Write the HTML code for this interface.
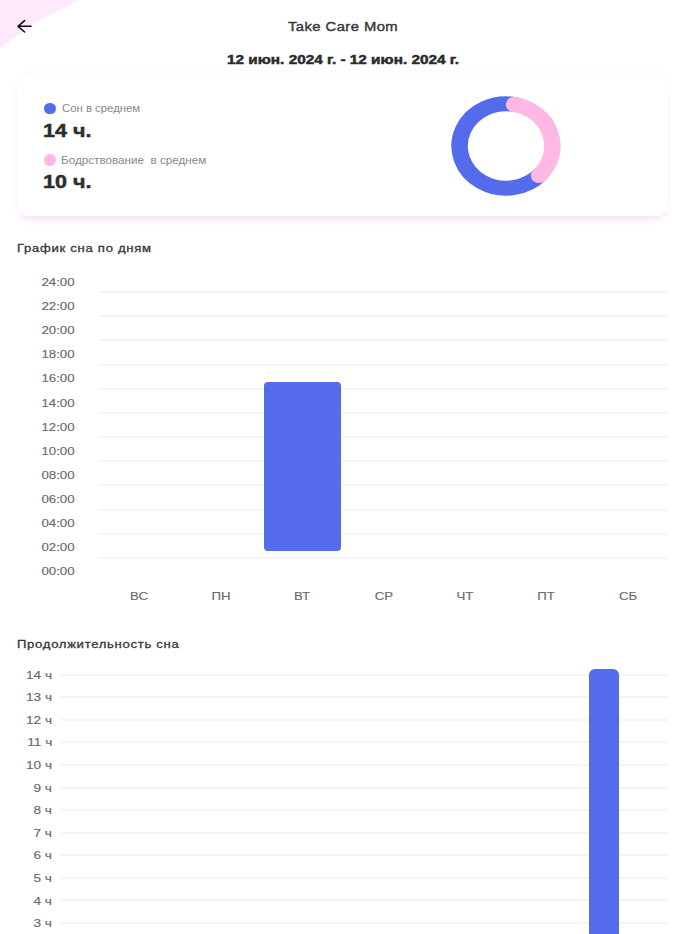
<!DOCTYPE html>
<html>
<head>
<meta charset="utf-8">
<style>
html,body{margin:0;padding:0;background:#fff;}
body{width:700px;height:934px;position:relative;overflow:hidden;font-family:"Liberation Sans",sans-serif;}
.t{position:absolute;white-space:nowrap;line-height:1;}
#blob{position:absolute;left:0;top:0;}
#card{position:absolute;left:17px;top:74px;width:651px;height:142px;border-radius:11px;background:#fff;box-shadow:0 6px 6px -3px rgba(245,175,232,0.42), 0 -2px 4px -1px rgba(240,190,240,0.16);}
.dot{position:absolute;width:11.4px;height:11.4px;border-radius:50%;}
.yl{color:#6a6a6a;text-align:right;transform-origin:right;-webkit-text-stroke:0.15px #6a6a6a;}
.xl{color:#6a6a6a;text-align:center;width:60px;transform-origin:center;-webkit-text-stroke:0.15px #6a6a6a;}
.gl{position:absolute;height:2px;background:#f5f5f5;}
.bar{position:absolute;background:#546ceb;}
</style>
</head>
<body>
<svg id="blob" width="80" height="50" viewBox="0 0 80 50"><path d="M0 0 L76.80 0 C76.38 0.35 75.43 1.27 74.30 2.10 C73.17 2.93 71.67 3.98 70.00 5.00 C68.33 6.02 66.20 7.18 64.30 8.20 C62.40 9.22 60.75 10.08 58.60 11.10 C56.45 12.12 53.78 13.17 51.40 14.30 C49.02 15.43 46.60 16.75 44.30 17.90 C42.00 19.05 39.78 20.02 37.60 21.20 C35.42 22.38 33.47 23.38 31.20 25.00 C28.93 26.62 25.87 29.35 24.00 30.90 C22.13 32.45 21.62 33.07 20.00 34.30 C18.38 35.53 16.20 36.97 14.30 38.30 C12.40 39.63 10.50 40.97 8.60 42.30 C6.70 43.63 4.33 45.32 2.90 46.30 C1.47 47.28 0.48 47.88 0.00 48.20 Z" fill="#feeafa"/></svg>
<svg style="position:absolute;left:16px;top:19px" width="17" height="15" viewBox="0 0 17 15"><path d="M2 7.3 H15 M8.6 1.6 L2 7.3 L8.6 13" fill="none" stroke="#111" stroke-width="1.6" stroke-linecap="round" stroke-linejoin="round"/></svg>
<div id="card"></div>
<div class="dot" style="left:44.2px;top:102.7px;background:#546ceb"></div>
<div class="dot" style="left:44.2px;top:154.4px;background:#fdb9e4"></div>
<svg style="position:absolute;left:0;top:0" width="700" height="250" viewBox="0 0 700 250">
<g transform="translate(506,146) scale(1.1,1)">
<path d="M32.09 27.41 A42.2 42.2 0 1 1 10.21 -40.95" fill="none" stroke="#546ceb" stroke-width="15"/>
<path d="M7.33 -41.56 A42.2 42.2 0 0 1 30.10 29.58" fill="none" stroke="#fdb9e4" stroke-width="15" stroke-linecap="round"/>
</g>
</svg>
<div class="t" id="title" style="left:288.40px;top:19.80px;font-size:13.5px;font-weight:normal;color:#383838;-webkit-text-stroke:0.4px #383838;letter-spacing:0.4px;transform:scaleX(1.0960);transform-origin:left">Take Care Mom</div>
<div class="t" id="date" style="left:227.00px;top:52.80px;font-size:13px;font-weight:bold;color:#2b2b2b;-webkit-text-stroke:0.5px #2b2b2b;transform:scaleX(1.1800);transform-origin:left">12 июн. 2024 г. - 12 июн. 2024 г.</div>
<div class="t" id="leg1" style="left:62.00px;top:104.30px;font-size:10.3px;font-weight:normal;color:#8a8a8a;transform:scaleX(1.1024);transform-origin:left">Сон в среднем</div>
<div class="t" id="leg2" style="left:61.10px;top:155.80px;font-size:10.3px;font-weight:normal;color:#8a8a8a;transform:scaleX(1.1345);transform-origin:left">Бодрствование&nbsp; в среднем</div>
<div class="t" id="big1" style="left:43.30px;top:120.70px;font-size:19px;font-weight:bold;color:#2d2d2d;-webkit-text-stroke:0.5px #2d2d2d;transform:scaleX(1.1322);transform-origin:left">14 ч.</div>
<div class="t" id="big2" style="left:43.30px;top:172.10px;font-size:19px;font-weight:bold;color:#2d2d2d;-webkit-text-stroke:0.5px #2d2d2d;transform:scaleX(1.1322);transform-origin:left">10 ч.</div>
<div class="t" id="ct1" style="left:17.10px;top:243.00px;font-size:11.3px;font-weight:normal;color:#363636;-webkit-text-stroke:0.3px #363636;letter-spacing:0.6px;transform:scaleX(1.1611);transform-origin:left">График сна по дням</div>
<div class="t" id="ct2" style="left:17.40px;top:638.50px;font-size:11.3px;font-weight:normal;color:#363636;-webkit-text-stroke:0.3px #363636;letter-spacing:0.6px;transform:scaleX(1.1596);transform-origin:left">Продолжительность сна</div>
<div class="gl" style="left:98.5px;width:569.5px;top:291.00px"></div>
<div class="gl" style="left:98.5px;width:569.5px;top:315.17px"></div>
<div class="gl" style="left:98.5px;width:569.5px;top:339.34px"></div>
<div class="gl" style="left:98.5px;width:569.5px;top:363.51px"></div>
<div class="gl" style="left:98.5px;width:569.5px;top:387.68px"></div>
<div class="gl" style="left:98.5px;width:569.5px;top:411.85px"></div>
<div class="gl" style="left:98.5px;width:569.5px;top:436.02px"></div>
<div class="gl" style="left:98.5px;width:569.5px;top:460.19px"></div>
<div class="gl" style="left:98.5px;width:569.5px;top:484.36px"></div>
<div class="gl" style="left:98.5px;width:569.5px;top:508.53px"></div>
<div class="gl" style="left:98.5px;width:569.5px;top:532.70px"></div>
<div class="gl" style="left:98.5px;width:569.5px;top:556.87px"></div>
<div class="t yl" style="right:625.00px;top:276.90px;font-size:11px;transform:scaleX(1.2000)">24:00</div>
<div class="t yl" style="right:625.00px;top:301.02px;font-size:11px;transform:scaleX(1.2000)">22:00</div>
<div class="t yl" style="right:625.00px;top:325.14px;font-size:11px;transform:scaleX(1.2000)">20:00</div>
<div class="t yl" style="right:625.00px;top:349.26px;font-size:11px;transform:scaleX(1.2000)">18:00</div>
<div class="t yl" style="right:625.00px;top:373.38px;font-size:11px;transform:scaleX(1.2000)">16:00</div>
<div class="t yl" style="right:625.00px;top:397.50px;font-size:11px;transform:scaleX(1.2000)">14:00</div>
<div class="t yl" style="right:625.00px;top:421.62px;font-size:11px;transform:scaleX(1.2000)">12:00</div>
<div class="t yl" style="right:625.00px;top:445.74px;font-size:11px;transform:scaleX(1.2000)">10:00</div>
<div class="t yl" style="right:625.00px;top:469.86px;font-size:11px;transform:scaleX(1.2000)">08:00</div>
<div class="t yl" style="right:625.00px;top:493.98px;font-size:11px;transform:scaleX(1.2000)">06:00</div>
<div class="t yl" style="right:625.00px;top:518.10px;font-size:11px;transform:scaleX(1.2000)">04:00</div>
<div class="t yl" style="right:625.00px;top:542.22px;font-size:11px;transform:scaleX(1.2000)">02:00</div>
<div class="t yl" style="right:625.00px;top:566.34px;font-size:11px;transform:scaleX(1.2000)">00:00</div>
<div class="t xl" style="left:109.20px;top:590.50px;font-size:11px;transform:scaleX(1.2000)">ВС</div>
<div class="t xl" style="left:190.65px;top:590.50px;font-size:11px;transform:scaleX(1.2000)">ПН</div>
<div class="t xl" style="left:272.10px;top:590.50px;font-size:11px;transform:scaleX(1.2000)">ВТ</div>
<div class="t xl" style="left:353.55px;top:590.50px;font-size:11px;transform:scaleX(1.2000)">СР</div>
<div class="t xl" style="left:435.00px;top:590.50px;font-size:11px;transform:scaleX(1.2000)">ЧТ</div>
<div class="t xl" style="left:516.45px;top:590.50px;font-size:11px;transform:scaleX(1.2000)">ПТ</div>
<div class="t xl" style="left:597.90px;top:590.50px;font-size:11px;transform:scaleX(1.2000)">СБ</div>
<div class="bar" style="left:264px;top:382.3px;width:77px;height:169.2px;border-radius:4px"></div>
<div class="gl" style="left:60px;width:608px;top:673.60px"></div>
<div class="gl" style="left:60px;width:608px;top:696.18px"></div>
<div class="gl" style="left:60px;width:608px;top:718.76px"></div>
<div class="gl" style="left:60px;width:608px;top:741.34px"></div>
<div class="gl" style="left:60px;width:608px;top:763.92px"></div>
<div class="gl" style="left:60px;width:608px;top:786.50px"></div>
<div class="gl" style="left:60px;width:608px;top:809.08px"></div>
<div class="gl" style="left:60px;width:608px;top:831.66px"></div>
<div class="gl" style="left:60px;width:608px;top:854.24px"></div>
<div class="gl" style="left:60px;width:608px;top:876.82px"></div>
<div class="gl" style="left:60px;width:608px;top:899.40px"></div>
<div class="gl" style="left:60px;width:608px;top:921.98px"></div>
<div class="t yl" style="right:647.80px;top:669.50px;font-size:11px;transform:scaleX(1.2350)">14 ч</div>
<div class="t yl" style="right:647.80px;top:692.11px;font-size:11px;transform:scaleX(1.2350)">13 ч</div>
<div class="t yl" style="right:647.80px;top:714.72px;font-size:11px;transform:scaleX(1.2350)">12 ч</div>
<div class="t yl" style="right:647.80px;top:737.33px;font-size:11px;transform:scaleX(1.2350)">11 ч</div>
<div class="t yl" style="right:647.80px;top:759.94px;font-size:11px;transform:scaleX(1.2350)">10 ч</div>
<div class="t yl" style="right:647.80px;top:782.55px;font-size:11px;transform:scaleX(1.2350)">9 ч</div>
<div class="t yl" style="right:647.80px;top:805.16px;font-size:11px;transform:scaleX(1.2350)">8 ч</div>
<div class="t yl" style="right:647.80px;top:827.77px;font-size:11px;transform:scaleX(1.2350)">7 ч</div>
<div class="t yl" style="right:647.80px;top:850.38px;font-size:11px;transform:scaleX(1.2350)">6 ч</div>
<div class="t yl" style="right:647.80px;top:872.99px;font-size:11px;transform:scaleX(1.2350)">5 ч</div>
<div class="t yl" style="right:647.80px;top:895.60px;font-size:11px;transform:scaleX(1.2350)">4 ч</div>
<div class="t yl" style="right:647.80px;top:918.21px;font-size:11px;transform:scaleX(1.2350)">3 ч</div>
<div class="bar" style="left:589px;top:669px;width:30px;height:300px;border-radius:6px"></div>
</body>
</html>
